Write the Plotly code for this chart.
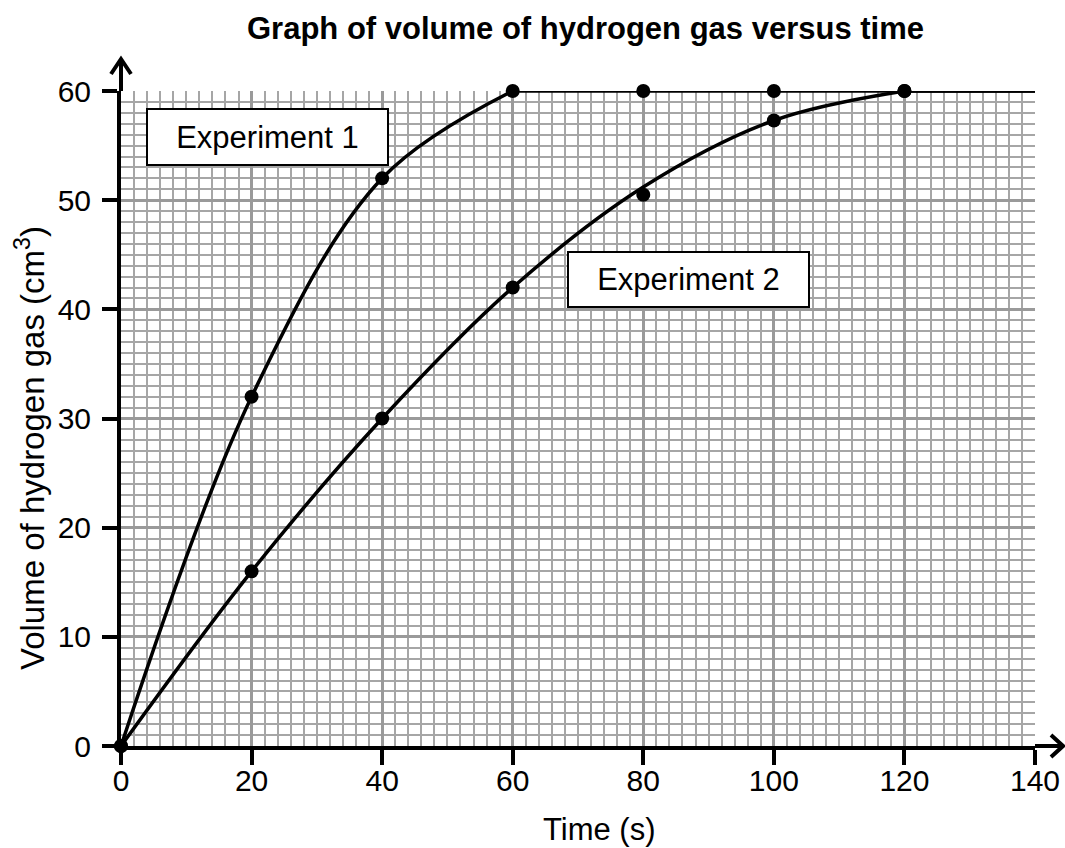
import plotly.graph_objects as go

# ---- data ----
time_s = [0, 20, 40, 60, 80, 100, 120]
exp1_volume = [0, 32, 52, 60, 60, 60, 60]
exp2_volume = [0, 16, 30, 42, 50.5, 57.3, 60]

# best-fit curves drawn through the points
exp1_curve_t = [0, 20, 40, 60]
exp1_curve_v = [0, 32, 52, 60]
exp2_curve_t = [0, 20, 40, 60, 80, 100, 120]
exp2_curve_v = [0, 16, 30, 42, 51.2, 57.3, 60]
plateau_volume = 60

x_ticks = [0, 20, 40, 60, 80, 100, 120, 140]
y_ticks = [0, 10, 20, 30, 40, 50, 60]
x_max = 140
y_max = 60

# ---- layout constants ----
W, H = 1065, 848
L, R, T, B = 121, 30, 91, 102
PW, PH = W - L - R, H - T - B
FONT = "Liberation Sans, Arial, sans-serif"

fig = go.Figure()

line_style = dict(color="black", width=3.5)
# Experiment 1 curve: smooth rise, then flat plateau
fig.add_trace(go.Scatter(x=exp1_curve_t, y=exp1_curve_v, mode="lines", cliponaxis=False,
                         line=dict(shape="spline", **line_style), hoverinfo="skip"))
fig.add_trace(go.Scatter(x=[exp1_curve_t[-1], x_max], y=[plateau_volume, plateau_volume],
                         mode="lines", line=line_style, cliponaxis=False, hoverinfo="skip"))
# Experiment 2 curve
fig.add_trace(go.Scatter(x=exp2_curve_t, y=exp2_curve_v, mode="lines", cliponaxis=False,
                         line=dict(shape="spline", **line_style), hoverinfo="skip"))
fig.add_trace(go.Scatter(x=[exp2_curve_t[-1], x_max], y=[plateau_volume, plateau_volume],
                         mode="lines", line=line_style, cliponaxis=False, hoverinfo="skip"))
# data points
marker_style = dict(color="black", size=14)
fig.add_trace(go.Scatter(x=time_s, y=exp1_volume, mode="markers", marker=marker_style,
                         cliponaxis=False, name="Experiment 1"))
fig.add_trace(go.Scatter(x=time_s, y=exp2_volume, mode="markers", marker=marker_style,
                         cliponaxis=False, name="Experiment 2"))

axis_common = dict(
    showline=True, linecolor="black", linewidth=4,
    ticks="outside", ticklen=15, tickwidth=4, tickcolor="black",
    tickfont=dict(family=FONT, size=30, color="black"),
    showgrid=True, gridcolor="#9a9a9a", gridwidth=3,
    zeroline=False, layer="below traces", automargin=False,
)

fig.update_xaxes(range=[0, x_max], tickmode="array", tickvals=x_ticks, ticklabelstandoff=-10,
                 minor=dict(dtick=2, showgrid=True, gridcolor="#a6a6a6", gridwidth=1.6, ticks=""),
                 **axis_common)
fig.update_yaxes(range=[0, y_max], tickmode="array", tickvals=y_ticks, ticklabelstandoff=5,
                 minor=dict(dtick=1, showgrid=True, gridcolor="#a6a6a6", gridwidth=1.6, ticks=""),
                 **axis_common)

# ---- axis arrows (paper coordinates from pixel offsets) ----
def px_x(px):
    return (px - L) / PW

def px_y(py):
    return (H - B - py) / PH

arrow_line = dict(color="black", width=4)
y_tip = px_y(59)
x_tip = px_x(1063)
shapes = [
    dict(type="line", xref="paper", yref="paper", x0=0, x1=0, y0=1, y1=y_tip,
         line=dict(color="black", width=4)),
    dict(type="path", xref="paper", yref="paper",
         path=f"M {-10/PW} {y_tip - 15/PH} L 0 {y_tip} L {10/PW} {y_tip - 15/PH}",
         line=arrow_line),
    dict(type="line", xref="paper", yref="paper", x0=1, x1=x_tip, y0=0, y1=0,
         line=dict(color="black", width=4)),
    dict(type="path", xref="paper", yref="paper",
         path=f"M {x_tip - 12/PW} {11/PH} L {x_tip} 0 L {x_tip - 12/PW} {-11/PH}",
         line=arrow_line),
]

annotations = [
    dict(text="Experiment 1", x=22.45, y=55.75, xref="x", yref="y", showarrow=False,
         font=dict(family=FONT, size=31, color="black"), bgcolor="white",
         bordercolor="black", borderwidth=2, borderpad=0, width=239, height=54),
    dict(text="Experiment 2", x=87.0, y=42.7, xref="x", yref="y", showarrow=False,
         font=dict(family=FONT, size=31, color="black"), bgcolor="white",
         bordercolor="black", borderwidth=2, borderpad=0, width=239, height=53),
    dict(text="Time (s)", x=px_x(599), y=px_y(829), xref="paper", yref="paper",
         showarrow=False, yanchor="middle", font=dict(family=FONT, size=31, color="black")),
    dict(text="Volume of hydrogen gas (cm<sup>3</sup>)", x=px_x(30), y=px_y(448),
         xref="paper", yref="paper", showarrow=False, textangle=-90,
         xanchor="center", yanchor="middle", font=dict(family=FONT, size=33, color="black")),
    dict(text="<b>Graph of volume of hydrogen gas versus time</b>", x=px_x(585), y=px_y(28),
         xref="paper", yref="paper", showarrow=False, yanchor="middle",
         font=dict(family=FONT, size=31, color="black")),
]

fig.update_layout(
    width=W, height=H,
    margin=dict(l=L, r=R, t=T, b=B, pad=0),
    paper_bgcolor="white", plot_bgcolor="white",
    showlegend=False, shapes=shapes, annotations=annotations,
    hovermode=False,
)

fig.write_html("out.html", config={"displayModeBar": False},
               post_script="document.body.style.margin='0';")
